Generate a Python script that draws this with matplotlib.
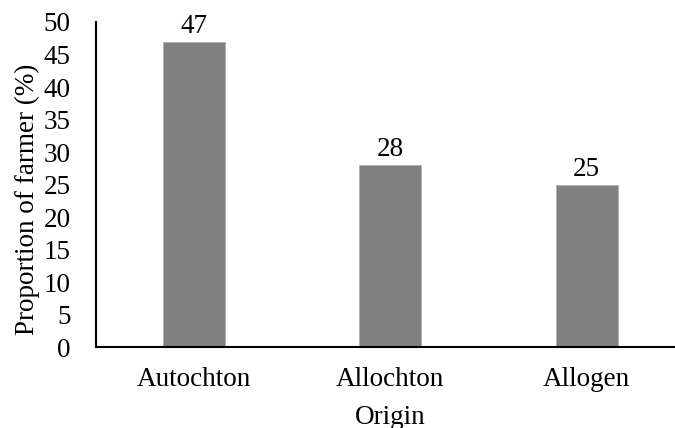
"""Bar chart: proportion of farmers by origin."""
import matplotlib

matplotlib.use("Agg")
import matplotlib.pyplot as plt

categories = ["Autochton", "Allochton", "Allogen"]
proportions = [47, 28, 25]
yticks = [0, 5, 10, 15, 20, 25, 30, 35, 40, 45, 50]

BAR_COLOR = "#808080"
FONT = "Liberation Serif"
FS = 19.5

plt.rcParams["font.family"] = [FONT, "DejaVu Serif"]

fig = plt.figure(figsize=(6.75, 4.28), dpi=100)
ax = fig.add_axes([0.1418, 0.1886, 0.873, 0.760])

x = list(range(len(categories)))
bars = ax.bar(x, proportions, width=0.316, color=BAR_COLOR,
              edgecolor="#b0b0b0", linewidth=0.6)
for rect, val in zip(bars, proportions):
    ax.annotate(f"{val}", (rect.get_x() + rect.get_width() / 2, rect.get_height()),
                xytext=(0, 2), textcoords="offset points",
                ha="center", va="bottom", fontsize=FS)

ax.set_xlim(-0.5, 2.5)
ax.set_ylim(0, 50)
ax.set_yticks(yticks)
ax.set_xticks(x)
ax.set_xticklabels(categories)
ax.tick_params(axis="both", length=0, labelsize=FS)
ax.tick_params(axis="y", pad=18)
ax.tick_params(axis="x", pad=14)

for side in ("top", "right"):
    ax.spines[side].set_visible(False)
for side in ("left", "bottom"):
    ax.spines[side].set_linewidth(1.5)
    ax.spines[side].set_color("black")

ax.set_xlabel("Origin", fontsize=FS)
ax.set_ylabel("Proportion of farmer (%)", fontsize=FS)
ax.xaxis.set_label_coords(0.5, -0.176)
ax.yaxis.set_label_coords(-0.094, 0.456)

fig.savefig("out.png", dpi=100)
